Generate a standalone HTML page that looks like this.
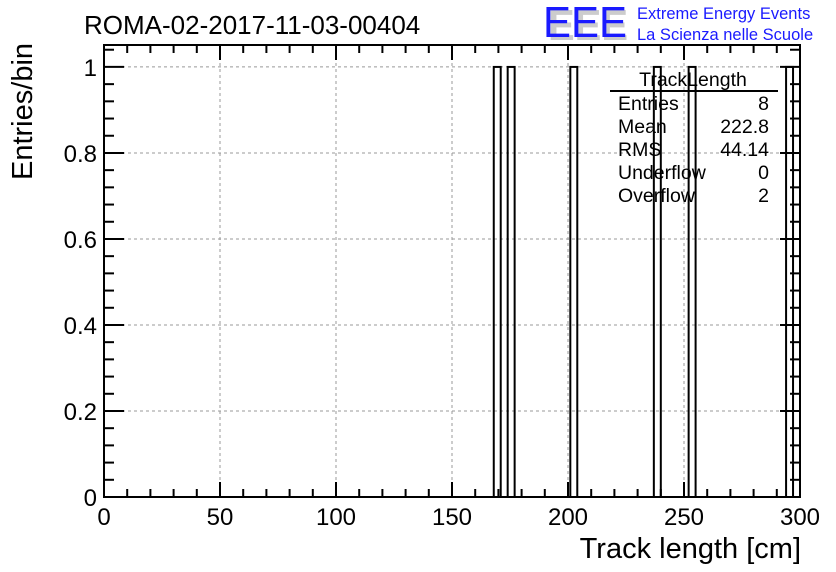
<!DOCTYPE html>
<html><head><meta charset="utf-8"><style>
body{margin:0;background:#fff}
svg{display:block;font-family:"Liberation Sans",sans-serif}
</style></head><body>
<svg id="c" width="836" height="572" xmlns="http://www.w3.org/2000/svg">
<rect width="836" height="572" fill="#fff"/>
<text x="84" y="34" font-size="26">ROMA-02-2017-11-03-00404</text>
<g>
<text x="548" y="40" font-size="44" fill="#ccc" font-weight="bold" textLength="80" lengthAdjust="spacingAndGlyphs">EEE</text>
<text x="543" y="37" font-size="44" fill="#1a1aff" textLength="84" lengthAdjust="spacingAndGlyphs">EEE</text>
<text x="637" y="19" font-size="16.5" fill="#1a1aff">Extreme Energy Events</text>
<text x="637" y="40" font-size="16.5" fill="#1a1aff">La Scienza nelle Scuole</text>
</g>
<g id="grid"></g>
<g id="bars"></g>
<g id="axes"></g>
<g font-size="19.5">
<text x="693" y="86" text-anchor="middle">TrackLength</text>
<line x1="610" y1="91" x2="778" y2="91" stroke="#000" stroke-width="2"/>
<text x="618" y="110">Entries</text><text x="769" y="110" text-anchor="end">8</text>
<text x="618" y="133">Mean</text><text x="769" y="133" text-anchor="end">222.8</text>
<text x="618" y="156">RMS</text><text x="769" y="156" text-anchor="end">44.14</text>
<text x="618" y="179">Underflow</text><text x="769" y="179" text-anchor="end">0</text>
<text x="618" y="202">Overflow</text><text x="769" y="202" text-anchor="end">2</text>
</g>
<text x="801" y="558" font-size="29" text-anchor="end">Track length [cm]</text>
<text transform="translate(32,180) rotate(-90)" font-size="29">Entries/bin</text>
</svg>
<script>
const binStarts=[168,174,201,237,252,294];
const binCounts=[1,1,1,1,1,1];
const binWidth=3;
const xTicks=[0,50,100,150,200,250,300];
const yTicks=[0,0.2,0.4,0.6,0.8,1];
const L=104,R=800,T=45,B=497,xMax=300,yMax=1.051;
const X=v=>L+(v/xMax)*(R-L);
const Y=v=>B-(v/yMax)*(B-T);
const NS="http://www.w3.org/2000/svg";
function mk(p,t,a){const e=document.createElementNS(NS,t);for(const k in a)e.setAttribute(k,a[k]);p.appendChild(e);return e;}
const grid=document.getElementById('grid'),bars=document.getElementById('bars'),axes=document.getElementById('axes');
xTicks.forEach(t=>{if(t>0&&t<xMax){const l=mk(grid,'line',{x1:X(t),x2:X(t),y1:T,y2:B,stroke:'#999','stroke-dasharray':'3,3'});

}});
yTicks.forEach(t=>{if(t>0){const l=mk(grid,'line',{x1:L,x2:R,y1:Y(t),y2:Y(t),stroke:'#999','stroke-dasharray':'3,3'});

}});
binStarts.forEach((s,i)=>{const r=mk(bars,'rect',{x:X(s),y:Y(binCounts[i]),width:X(s+binWidth)-X(s),height:B-Y(binCounts[i]),fill:'none',stroke:'#000','stroke-width':2});

});
const fr=mk(axes,'rect',{x:L,y:T,width:R-L,height:B-T,fill:'none',stroke:'#000','stroke-width':2});


for(let v=0;v<=xMax;v+=10){const maj=v%50===0,h=maj?15:8;
mk(axes,'line',{x1:X(v),x2:X(v),y1:B,y2:B-h,stroke:'#000','stroke-width':2});
mk(axes,'line',{x1:X(v),x2:X(v),y1:T,y2:T+h,stroke:'#000','stroke-width':2});}
for(let i=0;i<=26;i++){const v=i*0.04;if(v>yMax)break;const maj=i%5===0,h=maj?20:10;
mk(axes,'line',{x1:L,x2:L+h,y1:Y(v),y2:Y(v),stroke:'#000','stroke-width':2});
mk(axes,'line',{x1:R,x2:R-h,y1:Y(v),y2:Y(v),stroke:'#000','stroke-width':2});}
xTicks.forEach(t=>{const e=mk(axes,'text',{x:X(t),y:525,'font-size':24,'text-anchor':'middle'});e.textContent=t;

});
yTicks.forEach(t=>{const e=mk(axes,'text',{x:97,y:Y(t)+9,'font-size':24,'text-anchor':'end'});e.textContent=t;

});
</script>
</body></html>
